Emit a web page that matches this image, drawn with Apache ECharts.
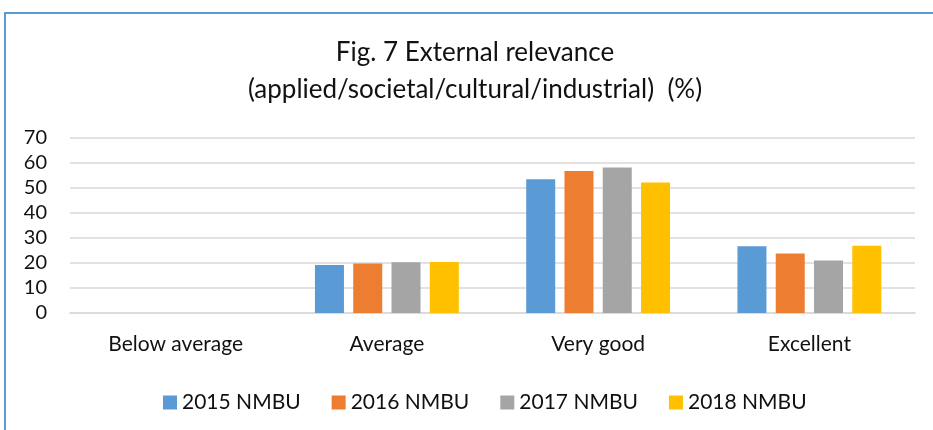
<!DOCTYPE html>
<html>
<head>
<meta charset="utf-8">
<script src="https://cdn.jsdelivr.net/npm/echarts@6/dist/echarts.min.js"></script>
<style>
  html, body { margin: 0; padding: 0; background: #fff; }
  #myChart { width: 933px; height: 430px; }
</style>
</head>
<body>
<div id="myChart"></div>
<script>
// data
const categories = ['Below average', 'Average', 'Very good', 'Excellent']
const seriesNames = ['2015 NMBU', '2016 NMBU', '2017 NMBU', '2018 NMBU']
const values2015 = [0, 19.2, 53.5, 26.7]
const values2016 = [0, 19.8, 56.8, 23.8]
const values2017 = [0, 20.3, 58.2, 21.0]
const values2018 = [0, 20.4, 52.2, 26.9]
const yTicks = [0, 10, 20, 30, 40, 50, 60, 70]

const colorList = ['#5B9BD5', '#ED7D31', '#A5A5A5', '#FFC000']
const font = 'Lato'

let myChart = echarts.init(document.getElementById('myChart'))
let allValues = [values2015, values2016, values2017, values2018]

myChart.setOption({
    animation: false,
    textStyle: { fontFamily: font },
    title: {
        text: 'Fig. 7 External relevance\n(applied/societal/cultural/industrial)  (%)',
        left: 470,
        textAlign: 'center',
        top: 29,
        textStyle: {
            fontFamily: font,
            fontSize: 26,
            fontWeight: 'normal',
            color: '#111',
            lineHeight: 37
        }
    },
    legend: {
        data: seriesNames,
        top: 387,
        left: 158,
        itemWidth: 14,
        itemHeight: 14,
        itemGap: 31,
        icon: 'rect',
        textStyle: { fontFamily: font, fontSize: 21, color: '#111' }
    },
    grid: {
        left: 70,
        right: 18,
        top: 138,
        bottom: 117
    },
    xAxis: {
        type: 'category',
        data: categories,
        axisLine: { show: true, lineStyle: { color: '#d9d9d9', width: 1.5 } },
        axisTick: { show: false },
        axisLabel: { fontFamily: font, fontSize: 21, color: '#111', margin: 21 }
    },
    yAxis: {
        type: 'value',
        min: yTicks[0],
        max: yTicks[yTicks.length - 1],
        interval: 10,
        axisLine: { show: false },
        axisTick: { show: false },
        splitLine: { lineStyle: { color: '#d9d9d9', width: 1.5 } },
        axisLabel: { fontFamily: font, fontSize: 20, color: '#111', margin: 23 }
    },
    graphic: [
        { type: 'line', shape: { x1: 4, y1: 13, x2: 933, y2: 13 }, style: { stroke: '#5B9BD5', lineWidth: 2 } },
        { type: 'line', shape: { x1: 5, y1: 12, x2: 5, y2: 430 }, style: { stroke: '#5B9BD5', lineWidth: 2 } }
    ],
    series: seriesNames.map(function(name, i) {
        return {
            name: name,
            type: 'bar',
            data: allValues[i],
            barWidth: 29,
            barGap: '32%',
            itemStyle: { color: colorList[i] }
        }
    })
})
</script>
</body>
</html>
